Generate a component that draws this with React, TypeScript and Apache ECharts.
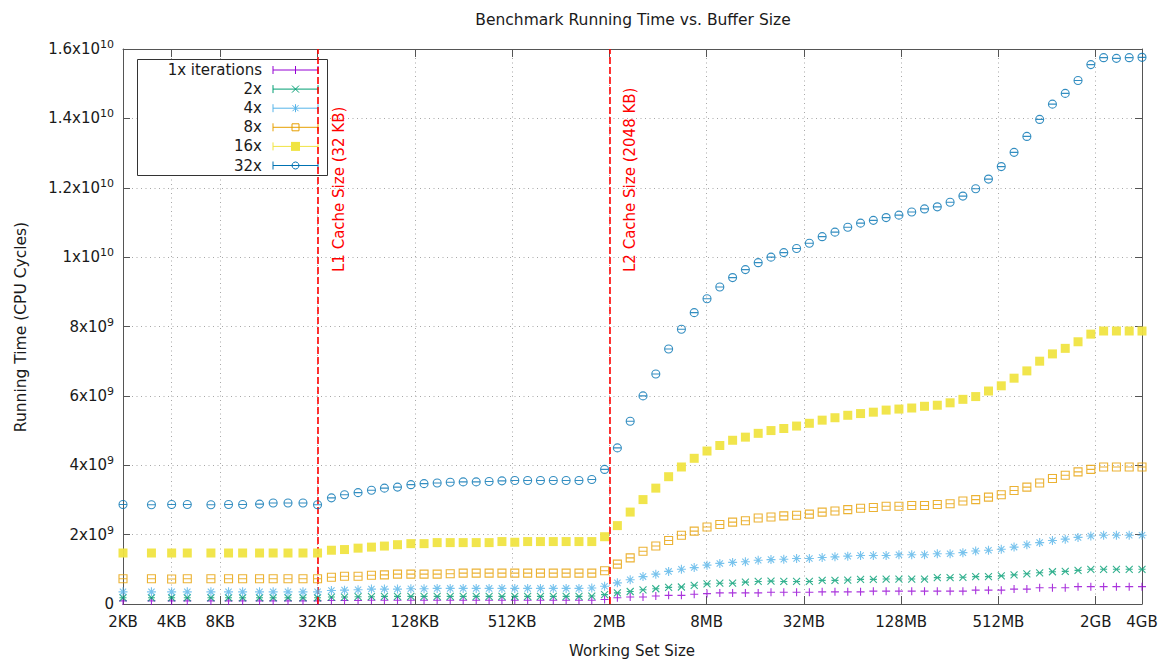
import React, { useEffect, useRef } from 'react';
import * as echarts from 'echarts';

// Working set sizes in KB (each step is floor(prev * 1.2) + 1)
const sizesKB = [
  2, 3, 4, 5, 7, 9, 11, 14, 17, 21,
  26, 32, 39, 47, 57, 69, 83, 100, 121, 146,
  176, 212, 255, 307, 369, 443, 532, 639, 767, 921,
  1106, 1328, 1594, 1913, 2296, 2756, 3308, 3970, 4765, 5719,
  6863, 8236, 9884, 11861, 14234, 17081, 20498, 24598, 29518, 35422,
  42507, 51009, 61211, 73454, 88145, 105775, 126931, 152318, 182782, 219339,
  263207, 315849, 379019, 454823, 545788, 654946, 785936, 943124, 1131749, 1358099,
  1629719, 1955663, 2346796, 2816156, 3379388, 4055266,
];

// Running time in units of 10^9 CPU cycles
const run1x = [
  0.09, 0.09, 0.09, 0.09, 0.09, 0.09, 0.09, 0.09, 0.09, 0.09,
  0.09, 0.09, 0.10, 0.10, 0.10, 0.11, 0.11, 0.11, 0.11, 0.11,
  0.11, 0.11, 0.11, 0.11, 0.11, 0.11, 0.11, 0.11, 0.11, 0.11,
  0.11, 0.11, 0.11, 0.13, 0.18, 0.20, 0.20, 0.23, 0.25, 0.25,
  0.28, 0.30, 0.32, 0.32, 0.32, 0.32, 0.34, 0.34, 0.34, 0.34,
  0.35, 0.35, 0.35, 0.35, 0.37, 0.37, 0.37, 0.37, 0.37, 0.37,
  0.37, 0.37, 0.40, 0.40, 0.40, 0.43, 0.43, 0.47, 0.47, 0.47,
  0.50, 0.50, 0.50, 0.50, 0.50, 0.50,
];
const run2x = [
  0.18, 0.18, 0.18, 0.18, 0.18, 0.18, 0.18, 0.18, 0.18, 0.18,
  0.18, 0.18, 0.20, 0.20, 0.21, 0.21, 0.22, 0.22, 0.22, 0.22,
  0.22, 0.22, 0.22, 0.22, 0.22, 0.22, 0.22, 0.22, 0.22, 0.22,
  0.22, 0.22, 0.23, 0.27, 0.32, 0.36, 0.41, 0.44, 0.48, 0.49,
  0.54, 0.58, 0.60, 0.60, 0.63, 0.65, 0.66, 0.65, 0.65, 0.65,
  0.68, 0.68, 0.69, 0.71, 0.71, 0.72, 0.72, 0.72, 0.72, 0.76,
  0.76, 0.77, 0.79, 0.79, 0.81, 0.84, 0.87, 0.90, 0.93, 0.94,
  0.97, 1.00, 1.00, 1.00, 1.00, 1.00,
];
const run4x = [
  0.35, 0.35, 0.35, 0.35, 0.35, 0.35, 0.35, 0.35, 0.35, 0.35,
  0.35, 0.35, 0.39, 0.40, 0.41, 0.43, 0.43, 0.43, 0.44, 0.44,
  0.45, 0.45, 0.45, 0.45, 0.45, 0.45, 0.45, 0.45, 0.45, 0.45,
  0.45, 0.45, 0.46, 0.51, 0.61, 0.70, 0.79, 0.86, 0.94, 1.00,
  1.05, 1.12, 1.17, 1.20, 1.22, 1.26, 1.28, 1.29, 1.31, 1.31,
  1.34, 1.36, 1.38, 1.40, 1.40, 1.40, 1.42, 1.42, 1.42, 1.45,
  1.45, 1.48, 1.53, 1.55, 1.58, 1.64, 1.71, 1.77, 1.83, 1.87,
  1.92, 1.96, 1.98, 1.98, 1.98, 1.98,
];
const run8x = [
  0.73, 0.73, 0.72, 0.73, 0.73, 0.73, 0.73, 0.73, 0.73, 0.73,
  0.73, 0.73, 0.77, 0.80, 0.80, 0.83, 0.84, 0.86, 0.86, 0.86,
  0.86, 0.87, 0.89, 0.89, 0.89, 0.89, 0.89, 0.89, 0.89, 0.89,
  0.89, 0.89, 0.89, 0.96, 1.15, 1.33, 1.52, 1.67, 1.83, 1.98,
  2.10, 2.22, 2.29, 2.36, 2.40, 2.48, 2.51, 2.54, 2.56, 2.59,
  2.65, 2.68, 2.72, 2.76, 2.78, 2.82, 2.82, 2.84, 2.84, 2.87,
  2.89, 2.97, 3.01, 3.08, 3.15, 3.27, 3.37, 3.49, 3.62, 3.71,
  3.81, 3.88, 3.95, 3.95, 3.95, 3.95,
];
const run16x = [
  1.47, 1.47, 1.47, 1.47, 1.47, 1.47, 1.47, 1.47, 1.47, 1.47,
  1.47, 1.47, 1.55, 1.57, 1.61, 1.64, 1.67, 1.71, 1.74, 1.74,
  1.77, 1.77, 1.77, 1.77, 1.77, 1.80, 1.78, 1.80, 1.80, 1.80,
  1.80, 1.80, 1.80, 1.94, 2.26, 2.65, 3.01, 3.34, 3.67, 3.95,
  4.20, 4.41, 4.57, 4.72, 4.81, 4.92, 5.00, 5.06, 5.13, 5.21,
  5.30, 5.37, 5.44, 5.49, 5.53, 5.59, 5.62, 5.65, 5.70, 5.73,
  5.80, 5.90, 5.98, 6.14, 6.29, 6.51, 6.72, 7.00, 7.21, 7.37,
  7.56, 7.78, 7.87, 7.87, 7.87, 7.87,
];
const run32x = [
  2.87, 2.86, 2.87, 2.87, 2.86, 2.87, 2.87, 2.88, 2.91, 2.91,
  2.91, 2.86, 3.06, 3.15, 3.21, 3.28, 3.34, 3.37, 3.44, 3.47,
  3.49, 3.51, 3.52, 3.52, 3.53, 3.55, 3.56, 3.56, 3.56, 3.56,
  3.56, 3.56, 3.59, 3.88, 4.50, 5.27, 6.00, 6.63, 7.35, 7.92,
  8.40, 8.80, 9.14, 9.41, 9.64, 9.84, 10.00, 10.13, 10.25, 10.40,
  10.59, 10.72, 10.86, 10.98, 11.06, 11.14, 11.21, 11.30, 11.39, 11.45,
  11.58, 11.76, 11.97, 12.25, 12.61, 13.02, 13.48, 13.97, 14.41, 14.72,
  15.09, 15.55, 15.75, 15.73, 15.75, 15.76,
];

// X tick positions (KB); the last one is the end of the measured range
const xTicksKB = [2, 4, 8, 32, 128, 512, 2048, 8192, 32768, 131072, 524288, 2097152, 4055266];

// Cache sizes in KB
const cacheLines = [
  { kb: 32, label: 'L1 Cache Size (32 KB)' },
  { kb: 2048, label: 'L2 Cache Size (2048 KB)' },
];

const FONT = '"DejaVu Sans", "Liberation Sans", sans-serif';
const TEXT = '#1a1a1a';
const BORDER = '#555555';
const GRID = '#a8a8a8';
const RED = '#ff0000';

type Kind = 'plus' | 'cross' | 'star' | 'square' | 'filled' | 'circle';

const seriesDefs: { name: string; values: number[]; color: string; kind: Kind }[] = [
  { name: '1x iterations', values: run1x, color: '#9400d3', kind: 'plus' },
  { name: '2x', values: run2x, color: '#009e73', kind: 'cross' },
  { name: '4x', values: run4x, color: '#56b4e9', kind: 'star' },
  { name: '8x', values: run8x, color: '#e69f00', kind: 'square' },
  { name: '16x', values: run16x, color: '#f0e442', kind: 'filled' },
  { name: '32x', values: run32x, color: '#0072b2', kind: 'circle' },
];

// Point glyphs; each includes the collapsed error-bar cap as a horizontal stroke
const symbols: Record<Kind, { symbol: string; size: number }> = {
  plus: { symbol: 'path://M5,0L5,10M0,5L10,5', size: 8 },
  cross: { symbol: 'path://M0,0L10,10M10,0L0,10M0,5L10,5', size: 7 },
  star: { symbol: 'path://M5,0L5,10M0,5L10,5M1.5,1.5L8.5,8.5M8.5,1.5L1.5,8.5', size: 9 },
  square: { symbol: 'path://M0,0L10,0L10,10L0,10ZM0,5L10,5', size: 8 },
  filled: { symbol: 'rect', size: 9 },
  circle: { symbol: 'path://M10,5A5,5,0,1,1,0,5A5,5,0,1,1,10,5ZM0,5L10,5', size: 8 },
};

function formatSize(kb: number): string {
  if (kb >= 1048576) return `${Math.round(kb / 1048576)}GB`;
  if (kb >= 1024) return `${Math.round(kb / 1024)}MB`;
  return `${kb}KB`;
}

function formatCycles(v: number): string {
  if (v === 0) return '{b|0}';
  const e = Math.floor(Math.log10(v) + 1e-9);
  const m = Math.round((v / Math.pow(10, e)) * 10) / 10;
  return `{b|${m}x10}{s|${e}}`;
}

function legendMarker(kind: Kind, cx: number, cy: number, color: string): any[] {
  const st = { stroke: color, lineWidth: 1, fill: 'none' };
  const ln = (x1: number, y1: number, x2: number, y2: number) => ({
    type: 'line', shape: { x1, y1, x2, y2 }, style: st,
  });
  switch (kind) {
    case 'plus':
      return [ln(cx, cy - 4, cx, cy + 4)];
    case 'cross':
      return [ln(cx - 3.5, cy - 3.5, cx + 3.5, cy + 3.5), ln(cx + 3.5, cy - 3.5, cx - 3.5, cy + 3.5)];
    case 'star':
      return [
        ln(cx, cy - 4, cx, cy + 4),
        ln(cx - 3, cy - 3, cx + 3, cy + 3),
        ln(cx + 3, cy - 3, cx - 3, cy + 3),
      ];
    case 'square':
      return [{ type: 'rect', shape: { x: cx - 3.5, y: cy - 3.5, width: 7, height: 7 }, style: st }];
    case 'filled':
      return [{ type: 'rect', shape: { x: cx - 4.5, y: cy - 4.5, width: 9, height: 9 }, style: { fill: color } }];
    case 'circle':
      return [{ type: 'circle', shape: { cx, cy, r: 3.5 }, style: st }];
  }
  return [];
}

function buildLegend(): any {
  const left = 137.5;
  const top = 59.5;
  const width = 190;
  const height = 116;
  const children: any[] = [
    { type: 'rect', shape: { x: left, y: top, width, height }, style: { fill: '#ffffff', stroke: '#333333', lineWidth: 1 } },
  ];
  seriesDefs.forEach((s, i) => {
    const y = 70 + i * 19.1;
    const x1 = 273;
    const x2 = 318;
    children.push({
      type: 'text', x: 262, y,
      style: { text: s.name, fontSize: 15, fontFamily: FONT, fill: TEXT, textAlign: 'right', textVerticalAlign: 'middle' },
    });
    const st = { stroke: s.color, lineWidth: 1 };
    children.push({ type: 'line', shape: { x1, y1: y, x2, y2: y }, style: st });
    children.push({ type: 'line', shape: { x1, y1: y - 4, x2: x1, y2: y + 4 }, style: st });
    children.push({ type: 'line', shape: { x1: x2, y1: y - 4, x2, y2: y + 4 }, style: st });
    legendMarker(s.kind, (x1 + x2) / 2, y, s.color).forEach((m) => children.push(m));
  });
  return { type: 'group', z: 100, children };
}

export default function App() {
  const ref = useRef<HTMLDivElement>(null);

  useEffect(() => {
    const el = ref.current;
    if (!el) return;
    const chart = echarts.init(el, null, { renderer: 'svg' });

    const xCommon = {
      type: 'log' as const,
      logBase: 2,
      min: sizesKB[0],
      max: sizesKB[sizesKB.length - 1],
      axisLine: { show: true, onZero: false, lineStyle: { color: BORDER, width: 1 } },
      axisTick: { show: true, inside: true, length: 8, customValues: xTicksKB, lineStyle: { color: BORDER } },
    };
    const yCommon = {
      type: 'value' as const,
      min: 0,
      max: 1.6e10,
      interval: 2e9,
      axisLine: { show: true, lineStyle: { color: BORDER, width: 1 } },
      axisTick: { show: true, inside: true, length: 7, lineStyle: { color: BORDER } },
    };

    const option: any = {
      animation: false,
      grid: { left: 123, right: 20, top: 49, bottom: 56, containLabel: false },
      xAxis: [
        {
          ...xCommon,
          position: 'bottom',
          axisLabel: {
            show: true,
            customValues: xTicksKB,
            formatter: (v: number) => formatSize(v),
            margin: 10,
            color: TEXT,
            fontSize: 15,
            fontFamily: FONT,
          },
          splitLine: { show: true, lineStyle: { color: GRID, type: [1, 3.5], width: 1 } },
        },
        {
          ...xCommon,
          position: 'top',
          axisLabel: { show: false },
          splitLine: { show: false },
        },
      ],
      yAxis: [
        {
          ...yCommon,
          position: 'left',
          axisLabel: {
            show: true,
            margin: 9,
            formatter: formatCycles,
            color: TEXT,
            fontFamily: FONT,
            rich: {
              b: { fontSize: 15, fontFamily: FONT, color: TEXT },
              s: { fontSize: 11, fontFamily: FONT, color: TEXT, padding: [0, 0, 9, 0] },
            },
          },
          splitLine: { show: true, lineStyle: { color: GRID, type: [1, 3.5], width: 1 } },
        },
        {
          ...yCommon,
          position: 'right',
          axisLabel: { show: false },
          splitLine: { show: false },
        },
      ],
      series: [
        {
          type: 'scatter',
          name: 'cache sizes',
          data: [],
          silent: true,
          z: 2,
          itemStyle: { color: RED },
          markLine: {
            silent: true,
            animation: false,
            symbol: ['none', 'none'],
            label: { show: false },
            lineStyle: { color: RED, type: [7, 3], width: 1.6, opacity: 1 },
            data: cacheLines.map((c) => ({ xAxis: c.kb })),
          },
        },
        ...seriesDefs.map((s, i) => ({
          type: 'scatter',
          name: s.name,
          xAxisIndex: 0,
          yAxisIndex: 0,
          data: sizesKB.map((kb, j) => [kb, s.values[j] * 1e9]),
          symbol: symbols[s.kind].symbol,
          symbolSize: symbols[s.kind].size,
          silent: true,
          z: 3 + i,
          itemStyle:
            s.kind === 'filled'
              ? { color: s.color, opacity: 0.95 }
              : { color: 'transparent', borderColor: s.color, borderWidth: 1.1 },
        })),
      ],
    };

    chart.setOption(option);

    const graphics: any[] = [
      {
        type: 'text', x: 633, y: 20, z: 100,
        style: { text: 'Benchmark Running Time vs. Buffer Size', fontSize: 15.5, fontFamily: FONT, fill: TEXT, textAlign: 'center', textVerticalAlign: 'middle' },
      },
      {
        type: 'text', x: 632, y: 651, z: 100,
        style: { text: 'Working Set Size', fontSize: 15, fontFamily: FONT, fill: TEXT, textAlign: 'center', textVerticalAlign: 'middle' },
      },
      {
        type: 'text', x: 21, y: 327, z: 100, rotation: Math.PI / 2,
        style: { text: 'Running Time (CPU Cycles)', fontSize: 15.5, fontFamily: FONT, fill: TEXT, textAlign: 'center', textVerticalAlign: 'middle' },
      },
      buildLegend(),
    ];

    cacheLines.forEach((c) => {
      const px = chart.convertToPixel({ xAxisIndex: 0 }, c.kb) as number;
      graphics.push({
        type: 'text', x: px + 21, y: 272, z: 90, rotation: Math.PI / 2,
        style: { text: c.label, fontSize: 15, fontFamily: FONT, fill: RED, textAlign: 'left', textVerticalAlign: 'middle' },
      });
    });

    chart.setOption({ graphic: graphics });

    return () => chart.dispose();
  }, []);

  return (
    <div
      ref={ref}
      style={{ position: 'absolute', left: 0, top: 0, width: 1162, height: 660, background: '#ffffff' }}
    />
  );
}
